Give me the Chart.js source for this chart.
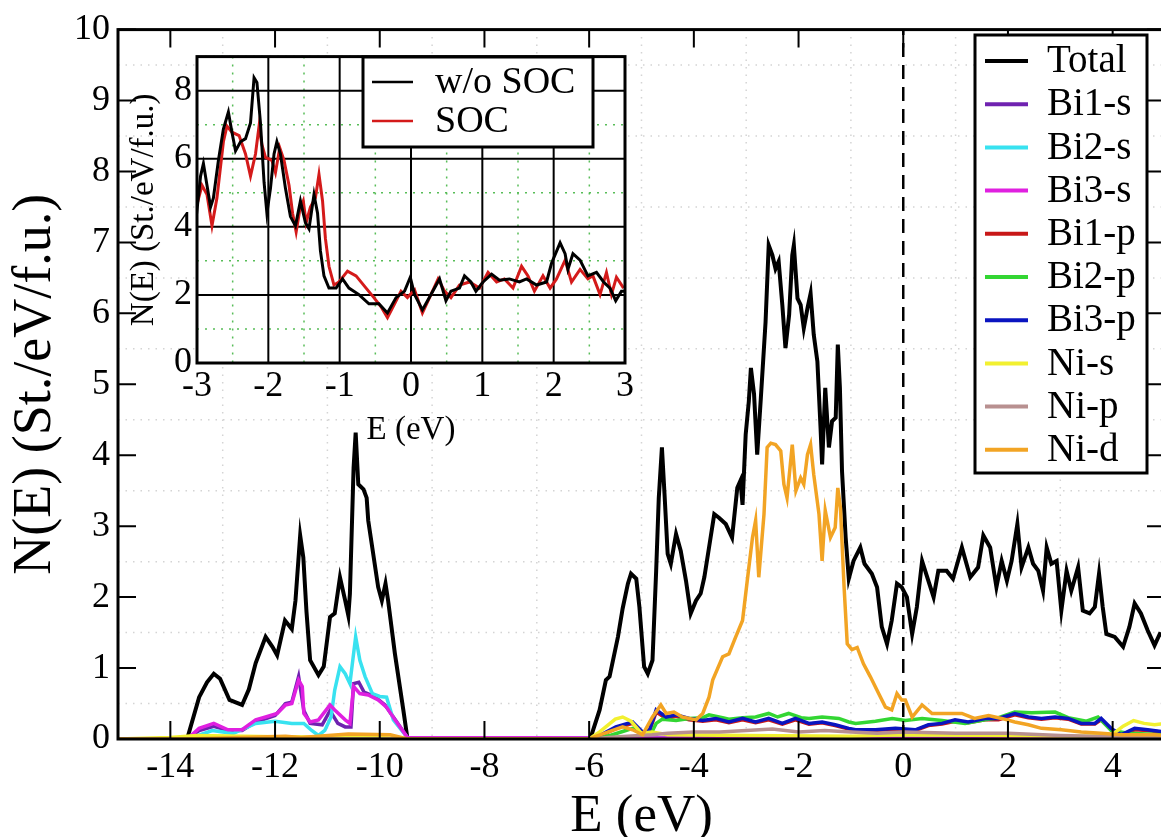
<!DOCTYPE html>
<html>
<head>
<meta charset="utf-8">
<script src="https://cdn.jsdelivr.net/npm/chart.js@4.4.1/dist/chart.umd.min.js"></script>
<style>
    html, body { margin: 0; padding: 0; background: #fff; overflow: hidden; }
    #wrap { position: relative; width: 1161px; height: 837px; overflow: hidden; }
    #main { position: absolute; left: 0; top: 0; }
    #inset { position: absolute; left: 120px; top: 30px; }
</style>
</head>
<body>
<div id="wrap">
    <canvas id="main" width="1170" height="837"></canvas>
    <canvas id="inset" width="520" height="420"></canvas>
</div>
<script>
// ---- main panel: partial DOS ----
var totalE = [-15, -13.68, -13.45, -13.3, -13.17, -13.05, -12.87, -12.63, -12.5, -12.37, -12.18, -12.05, -11.96, -11.81, -11.68, -11.61, -11.52, -11.46, -11.4, -11.33, -11.17, -11.07, -10.95, -10.86, -10.76, -10.66, -10.6, -10.57, -10.5, -10.46, -10.41, -10.31, -10.25, -10.22, -10.03, -9.96, -9.89, -9.84, -9.71, -9.55, -9.47,
    -5.98, -5.8, -5.68, -5.61, -5.45, -5.36, -5.26, -5.2, -5.1, -5.04, -4.95, -4.88, -4.79, -4.72, -4.67, -4.61, -4.56, -4.5, -4.44, -4.34, -4.25, -4.15, -4.06, -3.96, -3.87, -3.8, -3.71, -3.61, -3.52, -3.39, -3.27, -3.17, -3.11, -3.07, -3.01, -2.95, -2.91, -2.85, -2.79, -2.72, -2.63, -2.57, -2.5, -2.44, -2.38, -2.31, -2.25, -2.18, -2.12, -2.09, -2.02, -1.96, -1.9, -1.83, -1.77, -1.71, -1.64, -1.58, -1.55, -1.49, -1.42, -1.36, -1.29, -1.25, -1.21, -1.17, -1.1, -1.04, -0.95, -0.82, -0.74, -0.6, -0.5, -0.41, -0.31, -0.22, -0.12, -0.03,
    0.07, 0.17, 0.26, 0.36, 0.45, 0.58, 0.67, 0.83, 0.95, 1.12, 1.28, 1.43, 1.53, 1.66, 1.78, 1.88, 1.98, 2.07, 2.18, 2.26, 2.39, 2.48, 2.58, 2.67, 2.74, 2.83, 2.93, 3.02, 3.12, 3.21, 3.34, 3.43, 3.56, 3.66, 3.74, 3.81, 3.88, 4.04, 4.2, 4.32, 4.42, 4.54, 4.67, 4.8, 4.9, 5];
var totalN = [0, 0, 0.59, 0.8, 0.92, 0.85, 0.55, 0.48, 0.7, 1.07, 1.44, 1.3, 1.18, 1.67, 1.55, 1.95, 2.87, 2.56, 1.8, 1.11, 0.9, 1.02, 1.72, 1.77, 2.28, 1.95, 1.74, 2.05, 3.82, 4.32, 3.59, 3.52, 3.4, 3.08, 2.14, 1.95, 2.19, 1.95, 1.2, 0.41, 0,
    0, 0.41, 0.83, 0.88, 1.44, 1.84, 2.19, 2.33, 2.26, 1.86, 1.02, 0.92, 1.11, 2.37, 3.4, 4.11, 3.45, 2.61, 2.47, 2.89, 2.65, 2.23, 1.77, 1.95, 2.05, 2.28, 2.7, 3.17, 3.12, 3.03, 2.84, 3.54, 3.64, 3.3, 4.29, 4.76, 5.23, 4.86, 4.01, 4.81, 5.88, 6.96, 6.82, 6.63, 6.73, 6.12, 5.51, 5.98, 6.82, 6.96, 6.21, 6.12, 5.79, 6.07, 6.28, 5.7, 5.32, 4.39, 3.87, 4.95, 4.11, 4.48, 4.53, 5.56, 4.95, 3.78, 2.84, 2.26, 2.51, 2.7, 2.47, 2.33, 2.14, 1.58, 1.34, 1.67, 2.19, 2.14,
    2.0, 1.48, 1.86, 2.51, 2.3, 2.0, 2.37, 2.37, 2.26, 2.7, 2.28, 2.42, 2.87, 2.7, 2.14, 2.51, 2.23, 2.51, 3.03, 2.42, 2.7, 2.47, 2.37, 2.09, 2.7, 2.47, 2.51, 1.81, 2.37, 2.09, 2.42, 1.81, 1.77, 1.86, 2.33, 1.86, 1.48, 1.44, 1.3, 1.58, 1.91, 1.77, 1.53, 1.32, 1.48, 1.45];

var bi1sE = [-15, -13.68, -13.45, -13.17, -12.9, -12.63, -12.37, -12.0, -11.8, -11.68, -11.55, -11.45, -11.33, -11.1, -10.95, -10.8, -10.66, -10.55, -10.5, -10.4, -10.3, -10.1, -9.9, -9.71, -9.47, 5];
var bi1sN = [0, 0, 0.12, 0.18, 0.12, 0.12, 0.24, 0.33, 0.5, 0.52, 0.88, 0.4, 0.22, 0.2, 0.4, 0.22, 0.17, 0.17, 0.78, 0.8, 0.66, 0.6, 0.48, 0.28, 0.02, 0];

var bi2sE = [-15, -13.66, -13.2, -12.8, -12.37, -12.0, -11.68, -11.45, -11.3, -11.17, -11.05, -10.93, -10.86, -10.76, -10.66, -10.57, -10.46, -10.38, -10.28, -10.14, -10.0, -9.87, -9.74, -9.47, 5];
var bi2sN = [0, 0, 0.12, 0.08, 0.22, 0.25, 0.22, 0.22, 0.12, 0.05, 0.12, 0.31, 0.69, 1.02, 0.92, 0.78, 1.44, 1.11, 0.88, 0.64, 0.6, 0.59, 0.27, 0.02, 0];

var bi3sE = [-15, -13.68, -13.45, -13.17, -12.9, -12.63, -12.37, -12.18, -11.96, -11.8, -11.68, -11.55, -11.48, -11.45, -11.33, -11.17, -10.95, -10.86, -10.66, -10.57, -10.5, -10.38, -10.22, -10.03, -9.87, -9.71, -9.47, 5];
var bi3sN = [0, 0, 0.15, 0.22, 0.13, 0.13, 0.27, 0.31, 0.36, 0.48, 0.5, 0.83, 0.74, 0.36, 0.24, 0.27, 0.48, 0.41, 0.27, 0.22, 0.74, 0.64, 0.62, 0.55, 0.45, 0.27, 0.02, 0];

var bi1pE = [-15, -6.0, -5.8, -5.49, -5.17, -4.98, -4.85, -4.72, -4.53, -4.34, -4.09, -3.83, -3.58, -3.33, -3.07, -2.82, -2.57, -2.31, -2.06, -1.8, -1.55, -1.3, -1.04, -0.91, -0.53, -0.15, 0.23, 0.48, 0.74, 0.99, 1.24, 1.56, 1.82, 2.13, 2.39, 2.64, 2.9, 3.15, 3.4, 3.66, 3.78, 3.97, 4.16, 4.42, 4.67, 5];
var bi1pN = [0, 0, 0.04, 0.15, 0.22, 0.09, 0.11, 0.38, 0.29, 0.32, 0.27, 0.25, 0.27, 0.23, 0.27, 0.23, 0.27, 0.21, 0.27, 0.21, 0.23, 0.19, 0.14, 0.12, 0.12, 0.14, 0.12, 0.19, 0.21, 0.25, 0.23, 0.27, 0.27, 0.34, 0.3, 0.28, 0.3, 0.28, 0.21, 0.21, 0.27, 0.14, 0.05, 0.13, 0.12, 0.09];

var bi2pE = [-15, -6.0, -5.6, -5.3, -5.17, -4.98, -4.8, -4.72, -4.6, -4.34, -4.09, -3.83, -3.71, -3.45, -3.33, -3.07, -2.82, -2.57, -2.4, -2.19, -1.95, -1.8, -1.55, -1.23, -1.04, -0.91, -0.53, -0.21, 0.04, 0.36, 0.74, 1.18, 1.56, 1.82, 2.13, 2.45, 2.9, 3.15, 3.5, 3.72, 3.97, 4.3, 5];
var bi2pN = [0, 0, 0.05, 0.12, 0.15, 0.06, 0.1, 0.22, 0.28, 0.26, 0.29, 0.3, 0.34, 0.3, 0.28, 0.3, 0.31, 0.36, 0.31, 0.36, 0.3, 0.29, 0.31, 0.29, 0.24, 0.22, 0.25, 0.29, 0.26, 0.29, 0.26, 0.22, 0.27, 0.3, 0.38, 0.37, 0.38, 0.3, 0.25, 0.31, 0.12, 0.08, 0.06];

var bi3pE = [-15, -6.0, -5.8, -5.49, -5.17, -4.98, -4.85, -4.72, -4.53, -4.34, -4.09, -3.83, -3.58, -3.33, -3.07, -2.82, -2.57, -2.31, -2.06, -1.8, -1.55, -1.3, -1.04, -0.91, -0.53, -0.15, 0.23, 0.48, 0.74, 0.99, 1.24, 1.56, 1.82, 2.13, 2.39, 2.64, 2.9, 3.15, 3.4, 3.66, 3.78, 3.97, 4.16, 4.42, 4.67, 5];
var bi3pN = [0, 0, 0.05, 0.17, 0.24, 0.1, 0.12, 0.41, 0.31, 0.34, 0.29, 0.26, 0.29, 0.24, 0.29, 0.24, 0.29, 0.22, 0.29, 0.22, 0.24, 0.2, 0.15, 0.13, 0.13, 0.15, 0.13, 0.2, 0.22, 0.27, 0.24, 0.29, 0.29, 0.36, 0.31, 0.29, 0.31, 0.29, 0.22, 0.22, 0.29, 0.15, 0.06, 0.15, 0.13, 0.1];

var nisE = [-15, -14.0, -13.5, -12.0, -10.0, -9.47, -6.0, -5.8, -5.5, -5.36, -5.2, -5.0, -4.8, -4.5, -3.0, -1.0, 0, 2.0, 3.5, 3.97, 4.2, 4.4, 4.6, 4.8, 5];
var nisN = [0, 0.02, 0.05, 0.03, 0.02, 0, 0, 0.1, 0.28, 0.31, 0.25, 0.08, 0.1, 0.06, 0.05, 0.04, 0.06, 0.05, 0.04, 0.05, 0.18, 0.26, 0.22, 0.2, 0.22];

var nipE = [-15, -6.0, -5.5, -4.8, -4.5, -4.0, -3.5, -3.0, -2.5, -2.0, -1.5, -1.0, -0.5, 0, 1.0, 2.0, 3.0, 4.0, 5];
var nipN = [0, 0, 0.03, 0.06, 0.08, 0.1, 0.1, 0.12, 0.14, 0.1, 0.12, 0.1, 0.08, 0.1, 0.08, 0.08, 0.05, 0.03, 0.02];

var nidE = [-15, -13.7, -11.8, -11.5, -10.6, -9.8, -9.47,
    -6.0, -5.9, -5.36, -5.17, -4.98, -4.79, -4.63, -4.53, -4.38, -4.22, -3.96, -3.83, -3.71, -3.64, -3.45, -3.33, -3.2, -3.07, -2.98, -2.88, -2.82, -2.76, -2.66, -2.6, -2.53, -2.44, -2.34, -2.28, -2.22, -2.12, -2.05, -1.96, -1.9, -1.83, -1.77, -1.71, -1.61, -1.55, -1.49, -1.39, -1.3, -1.25, -1.2, -1.13, -1.07, -0.98, -0.88, -0.76, -0.63, -0.47, -0.34, -0.22, -0.12, -0.03,
    0.04, 0.17, 0.36, 0.55, 0.8, 1.12, 1.36, 1.63, 1.88, 2.13, 2.39, 2.64, 3.02, 3.4, 3.78, 4.16, 4.8, 5];
var nidN = [0, 0, 0.04, 0.02, 0.07, 0.06, 0,
    0, 0.03, 0.17, 0.13, 0.06, 0.31, 0.48, 0.36, 0.38, 0.31, 0.27, 0.36, 0.59, 0.83, 1.16, 1.2, 1.44, 1.67, 2.23, 2.84, 3.08, 2.28, 3.17, 4.11, 4.17, 4.15, 4.06, 3.59, 3.4, 4.15, 3.5, 3.68, 3.59, 4.01, 4.15, 3.73, 3.17, 2.51, 3.22, 2.84, 2.98, 3.54, 3.26, 2.14, 1.34, 1.26, 1.29, 1.06, 0.88, 0.64, 0.45, 0.41, 0.64, 0.55,
    0.55, 0.31, 0.48, 0.36, 0.36, 0.36, 0.29, 0.33, 0.29, 0.24, 0.2, 0.15, 0.13, 0.1, 0.08, 0.06, 0.06, 0.05];

var fermiE = [0, 0];
var fermiN = [0, 10];

var seriesNames = ["Total", "Bi1-s", "Bi2-s", "Bi3-s", "Bi1-p", "Bi2-p", "Bi3-p", "Ni-s", "Ni-p", "Ni-d"];
var seriesColors = ["#000000", "#6f22b0", "#38e2f0", "#e020e0", "#c81818", "#33d633", "#0a14c0", "#f2f030", "#b89090", "#f2a424"];

var xTicks = [-14, -12, -10, -8, -6, -4, -2, 0, 2, 4];
var yTicks = [0, 1, 2, 3, 4, 5, 6, 7, 8, 9, 10];

// ---- inset: total DOS near E_F ----
var noSocE = [-3.01, -2.95, -2.91, -2.86, -2.81, -2.77, -2.7, -2.63, -2.56, -2.51, -2.46, -2.39, -2.32, -2.25, -2.2, -2.16, -2.11, -2.06, -2.02, -1.97, -1.92, -1.88, -1.83, -1.76, -1.69, -1.62, -1.55, -1.48, -1.43, -1.36, -1.31, -1.27, -1.22, -1.15, -1.05, -0.96, -0.87, -0.73, -0.59, -0.45, -0.33, -0.21, -0.09, -0.01, 0.05, 0.16, 0.28, 0.4, 0.49, 0.56, 0.68, 0.75, 0.84, 0.91, 1.01, 1.13, 1.24, 1.38, 1.52, 1.62, 1.76, 1.9, 1.97, 2.09, 2.16, 2.2, 2.27, 2.37, 2.48, 2.6, 2.7, 2.79, 2.87, 2.95, 3.0];
var noSocN = [4.3, 5.49, 5.86, 5.22, 4.58, 4.85, 5.95, 6.87, 7.37, 6.78, 6.23, 6.5, 6.59, 7.05, 8.38, 8.24, 7.05, 5.31, 4.4, 5.13, 6.14, 6.5, 6.14, 5.13, 4.3, 4.03, 4.76, 4.12, 3.94, 4.95, 4.4, 3.3, 2.56, 2.2, 2.2, 2.47, 2.2, 2.01, 1.74, 1.74, 1.47, 1.92, 2.11, 2.52, 2.01, 1.56, 2.01, 2.47, 1.83, 2.11, 2.2, 2.56, 2.38, 2.11, 2.38, 2.61, 2.43, 2.47, 2.38, 2.47, 2.29, 2.38, 2.93, 3.53, 3.21, 2.75, 3.21, 3.02, 2.56, 2.66, 2.38, 2.2, 1.83, 2.11, 2.11];

var socE = [-3.01, -2.93, -2.86, -2.79, -2.72, -2.63, -2.58, -2.51, -2.41, -2.32, -2.25, -2.18, -2.13, -2.09, -2.04, -1.95, -1.9, -1.84, -1.78, -1.71, -1.66, -1.61, -1.56, -1.51, -1.47, -1.41, -1.34, -1.29, -1.24, -1.2, -1.15, -1.08, -1.01, -0.89, -0.77, -0.63, -0.52, -0.42, -0.33, -0.23, -0.14, -0.05, 0.05, 0.16, 0.26, 0.38, 0.47, 0.56, 0.68, 0.82, 0.96, 1.08, 1.2, 1.31, 1.43, 1.55, 1.64, 1.73, 1.85, 1.95, 2.04, 2.16, 2.25, 2.37, 2.48, 2.55, 2.65, 2.74, 2.81, 2.88, 2.98];
var socN = [4.58, 5.22, 4.95, 4.03, 4.85, 6.5, 6.96, 6.78, 6.68, 6.14, 5.49, 6.14, 6.96, 6.41, 6.04, 5.95, 5.59, 6.32, 5.95, 5.22, 4.4, 3.85, 4.49, 4.76, 4.12, 4.58, 4.85, 5.54, 4.76, 3.66, 2.84, 2.29, 2.38, 2.7, 2.56, 2.2, 1.92, 1.65, 1.33, 1.74, 2.11, 1.92, 2.15, 1.47, 1.92, 2.47, 2.11, 1.92, 2.29, 2.38, 2.2, 2.66, 2.38, 2.47, 2.2, 2.84, 2.56, 2.11, 2.56, 2.2, 2.47, 3.02, 2.38, 2.75, 2.47, 2.56, 2.01, 2.66, 2.01, 2.52, 2.2];

var insetNames = ["w/o SOC", "SOC"];
var insetColors = ["#000000", "#d41a1a"];
var insetXTicks = [-3, -2, -1, 0, 1, 2, 3];
var insetYTicks = [0, 2, 4, 6, 8];

// ---- helpers ----
var serif = "'Liberation Serif', 'Times New Roman', serif";
Chart.defaults.font.family = serif;
Chart.defaults.color = '#000';

function pts(e, n) {
    return e.map(function (x, i) {
        return {x: x, y: n[i]};
    });
}

function series(label, e, n, color, width) {
    return {
        label: label,
        data: pts(e, n),
        borderColor: color,
        backgroundColor: color,
        borderWidth: width,
        pointRadius: 0,
        tension: 0,
        fill: false
    };
}

function fixTicks(values) {
    return function (scale) {
        scale.ticks = values.map(function (v) { return {value: v}; });
    };
}

// draws a legend box with line samples, the plain grace way
function drawLegend(ctx, items, box) {
    ctx.save();
    ctx.setLineDash([]);
    ctx.fillStyle = '#fff';
    ctx.fillRect(box.left, box.top, box.width, box.height);
    ctx.lineWidth = 3;
    ctx.strokeStyle = '#000';
    ctx.strokeRect(box.left, box.top, box.width, box.height);
    ctx.font = box.font + 'px ' + serif;
    ctx.textBaseline = 'middle';
    items.forEach(function (ds, i) {
        var y = box.top + box.first + i * box.row;
        ctx.strokeStyle = ds.borderColor;
        ctx.lineWidth = box.lineWidth;
        ctx.beginPath();
        ctx.moveTo(box.left + box.lineFrom, y);
        ctx.lineTo(box.left + box.lineTo, y);
        ctx.stroke();
        ctx.fillStyle = '#000';
        ctx.fillText(ds.label, box.left + box.textAt, y + 1);
    });
    ctx.restore();
}

function hLine(ctx, a, y) {
    ctx.beginPath();
    ctx.moveTo(a.left, y);
    ctx.lineTo(a.right, y);
    ctx.stroke();
}

function vLine(ctx, a, x) {
    ctx.beginPath();
    ctx.moveTo(x, a.top);
    ctx.lineTo(x, a.bottom);
    ctx.stroke();
}

// ---- main chart ----
var mainFrame = {
    id: 'mainFrame',
    beforeDatasetsDraw: function (chart) {
        var ctx = chart.ctx, a = chart.chartArea;
        var xs = chart.scales.x, ys = chart.scales.y;
        ctx.save();
        // faint dotted minor grid
        ctx.strokeStyle = '#d4d4d4';
        ctx.lineWidth = 1.5;
        ctx.setLineDash([1.5, 6]);
        for (var i = 1; i < ys.ticks.length; i++) {
            hLine(ctx, a, ys.getPixelForValue((ys.ticks[i - 1].value + ys.ticks[i].value) / 2));
        }
        for (var j = 1; j < xs.ticks.length; j++) {
            vLine(ctx, a, xs.getPixelForValue((xs.ticks[j - 1].value + xs.ticks[j].value) / 2));
        }
        ctx.restore();
    },
    afterDatasetsDraw: function (chart) {
        var ctx = chart.ctx, a = chart.chartArea;
        var xs = chart.scales.x, ys = chart.scales.y;
        var tl = 18;
        ctx.save();
        ctx.strokeStyle = '#000';
        ctx.lineWidth = 2;
        xs.ticks.forEach(function (t) {
            var px = xs.getPixelForValue(t.value);
            ctx.beginPath();
            ctx.moveTo(px, a.bottom);
            ctx.lineTo(px, a.bottom - tl);
            ctx.moveTo(px, a.top);
            ctx.lineTo(px, a.top + tl);
            ctx.stroke();
        });
        ys.ticks.forEach(function (t) {
            var py = ys.getPixelForValue(t.value);
            ctx.beginPath();
            ctx.moveTo(a.left, py);
            ctx.lineTo(a.left + tl, py);
            ctx.moveTo(a.right, py);
            ctx.lineTo(a.right - tl, py);
            ctx.stroke();
        });
        ctx.lineWidth = 3;
        ctx.strokeRect(a.left, a.top, a.right - a.left, a.bottom - a.top);
        ctx.restore();

        drawLegend(ctx, chart.data.datasets.filter(function (d) { return d.label; }), {
            left: 975, top: 35, width: 172, height: 438,
            first: 26, row: 43.2, font: 39,
            lineFrom: 10, lineTo: 53, textAt: 72, lineWidth: 4
        });
    }
};

var mainE = [totalE, bi1sE, bi2sE, bi3sE, bi1pE, bi2pE, bi3pE, nisE, nipE, nidE];
var mainN = [totalN, bi1sN, bi2sN, bi3sN, bi1pN, bi2pN, bi3pN, nisN, nipN, nidN];

var mainSets = seriesNames.map(function (name, i) {
    var ds = series(name, mainE[i], mainN[i], seriesColors[i], i === 0 ? 4 : 3.5);
    ds.order = seriesNames.length - i;   // later curves on top, as grace does
    return ds;
});
var fermi = series('', fermiE, fermiN, '#000', 2.5);
fermi.borderDash = [14, 8];
fermi.order = 0;
mainSets.push(fermi);

new Chart(document.getElementById('main'), {
    type: 'line',
    data: {datasets: mainSets},
    options: {
        responsive: false,
        animation: false,
        layout: {padding: {top: 27, right: 5, left: 0, bottom: 0}},
        plugins: {legend: {display: false}, tooltip: {enabled: false}},
        scales: {
            x: {
                type: 'linear', min: -15, max: 5,
                grid: {display: false, drawTicks: false},
                border: {display: false},
                afterBuildTicks: fixTicks(xTicks),
                ticks: {padding: 7, color: '#000', font: {size: 36, lineHeight: 1.2}},
                title: {display: true, text: 'E (eV)', color: '#000',
                    font: {size: 53, lineHeight: 0.75}, padding: {top: 0, bottom: 0}},
                afterFit: function (s) { s.height = 98; }
            },
            y: {
                min: 0, max: 10,
                grid: {display: false, drawTicks: false},
                border: {display: false},
                afterBuildTicks: fixTicks(yTicks),
                ticks: {padding: 8, color: '#000', font: {size: 36}},
                title: {display: true, text: 'N(E) (St./eV/f.u.)', color: '#000',
                    font: {size: 54, lineHeight: 1.2}, padding: {top: 3, bottom: 0}},
                afterFit: function (s) { s.width = 118; }
            }
        }
    },
    plugins: [mainFrame]
});

// ---- inset chart ----
var insetFrame = {
    id: 'insetFrame',
    beforeDatasetsDraw: function (chart) {
        var ctx = chart.ctx, a = chart.chartArea;
        var xs = chart.scales.x, ys = chart.scales.y;
        ctx.save();
        ctx.fillStyle = '#fff';
        ctx.fillRect(a.left, a.top, a.right - a.left, a.bottom - a.top);
        // green dotted at the half steps
        ctx.strokeStyle = '#58bd58';
        ctx.lineWidth = 1.5;
        ctx.setLineDash([2, 6]);
        for (var i = 0; i < ys.ticks.length; i++) {
            hLine(ctx, a, ys.getPixelForValue(ys.ticks[i].value + 1));
        }
        for (var j = 0; j < xs.ticks.length - 1; j++) {
            vLine(ctx, a, xs.getPixelForValue(xs.ticks[j].value + 0.5));
        }
        // black solid at the major ticks
        ctx.setLineDash([]);
        ctx.strokeStyle = '#000';
        ctx.lineWidth = 2;
        ys.ticks.forEach(function (t) { hLine(ctx, a, ys.getPixelForValue(t.value)); });
        xs.ticks.forEach(function (t) { vLine(ctx, a, xs.getPixelForValue(t.value)); });
        ctx.restore();
    },
    afterDatasetsDraw: function (chart) {
        var ctx = chart.ctx, a = chart.chartArea;
        ctx.save();
        ctx.lineWidth = 3;
        ctx.strokeStyle = '#000';
        ctx.strokeRect(a.left, a.top, a.right - a.left, a.bottom - a.top);
        ctx.restore();
        drawLegend(ctx, chart.data.datasets, {
            left: 243, top: 27, width: 230, height: 90,
            first: 25, row: 39, font: 38,
            lineFrom: 9, lineTo: 50, textAt: 72, lineWidth: 2.5
        });
    }
};

new Chart(document.getElementById('inset'), {
    type: 'line',
    data: {
        datasets: [
            series(insetNames[0], noSocE, noSocN, insetColors[0], 3),
            series(insetNames[1], socE, socN, insetColors[1], 3)
        ]
    },
    options: {
        responsive: false,
        animation: false,
        layout: {padding: {top: 4, right: 15, left: 0, bottom: 0}},
        plugins: {legend: {display: false}, tooltip: {enabled: false}},
        scales: {
            x: {
                type: 'linear', min: -3, max: 3,
                grid: {display: false, drawTicks: false},
                border: {display: false},
                afterBuildTicks: fixTicks(insetXTicks),
                ticks: {padding: 2, color: '#000', font: {size: 36, lineHeight: 1.2}},
                title: {display: true, text: 'E (eV)', color: '#000',
                    font: {size: 33, lineHeight: 1.2}, padding: {top: 0, bottom: 0}},
                afterFit: function (s) { s.height = 87; }
            },
            y: {
                min: 0, max: 9,
                grid: {display: false, drawTicks: false},
                border: {display: false},
                afterBuildTicks: fixTicks(insetYTicks),
                ticks: {padding: 5, color: '#000', font: {size: 36}},
                title: {display: true, text: 'N(E) (St./eV/f.u.)', color: '#000',
                    font: {size: 33, lineHeight: 1.2}, padding: {top: 5, bottom: 0}},
                afterFit: function (s) { s.width = 77; }
            }
        }
    },
    plugins: [insetFrame]
});
</script>
</body>
</html>
